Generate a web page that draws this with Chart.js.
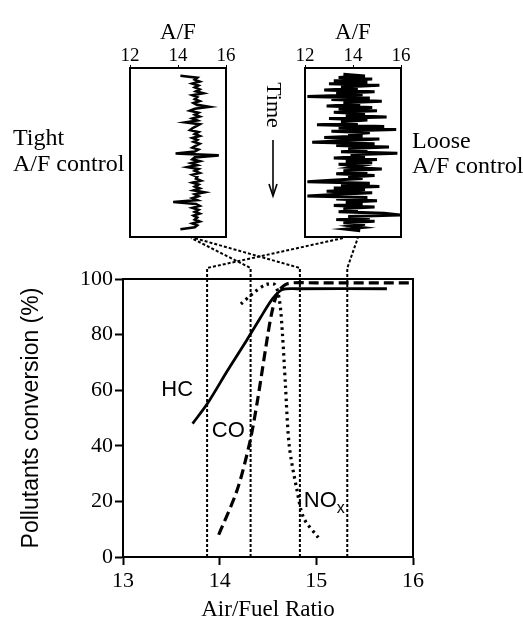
<!DOCTYPE html>
<html>
<head>
<meta charset="utf-8">
<script src="https://cdn.jsdelivr.net/npm/chart.js@4/dist/chart.umd.min.js"></script>
<style>
  body { margin: 0; background: #fff; }
  #wrap { position: relative; width: 523px; height: 624px; }
  canvas { position: absolute; }
</style>
</head>
<body>
<div id="wrap">
  <canvas id="main" width="523" height="624" style="left:0;top:0"></canvas>
  <canvas id="tight" width="160" height="245" style="left:100px;top:0"></canvas>
  <canvas id="loose" width="160" height="245" style="left:275px;top:0"></canvas>
</div>
<script>
// ---- data ----
const xTicks = [13, 14, 15, 16];
const yTicks = [0, 20, 40, 60, 80, 100];
const insetTicks = [12, 14, 16];

// conversion curves: [A/F, %]
const hcCurve = [[13.72, 48], [13.87, 55], [14.08, 67], [14.28, 78], [14.42, 86], [14.55, 93], [14.65, 96.2], [14.8, 96.5], [15.73, 96.5]];
const coCurve = [[13.99, 8], [14.18, 24], [14.31, 41], [14.39, 56], [14.48, 76], [14.54, 88], [14.6, 95], [14.7, 98.3], [15.0, 98.6], [16.0, 98.6]];
const noxCurve = [[14.22, 91], [14.35, 95], [14.48, 98], [14.57, 98], [14.62, 92], [14.65, 80], [14.68, 62], [14.72, 40], [14.8, 24], [14.87, 14], [15.02, 7]];

// operating window limits on main axis, and the inset A/F values they link to
const tightWindow = [14.32, 14.83];
const tightLinkFrom = [14.55, 14.67];
const looseWindow = [13.87, 15.32];
const looseLinkFrom = [13.6, 14.2];

// A/F traces over time (top = start)
const tightAF = [14.1, 14.8, 14.7, 14.9, 14.6, 14.85, 14.7, 14.9, 14.75, 15.05,
  14.6, 14.8, 14.7, 14.9, 14.65, 14.8, 15.3, 14.7, 14.5, 14.85,
  14.7, 14.9, 14.6, 14.8, 14.3, 14.9, 14.75, 14.6, 14.5, 14.85,
  14.7, 14.9, 14.6, 14.8, 14.65, 14.9, 14.75, 14.6, 14.85, 14.7,
  13.9, 15.7, 14.7, 14.6, 14.9, 14.55, 14.8, 14.4, 14.85, 14.7,
  14.9, 14.6, 14.8, 14.75, 14.95, 14.6, 14.85, 14.7, 14.9, 14.65,
  15.1, 14.7, 14.85, 14.6, 14.8, 13.8, 14.75, 14.9, 14.6, 14.85,
  14.7, 14.9, 14.65, 14.8, 14.7, 14.9, 14.6, 14.8, 14.7, 14.1];
const looseAF = [13.6, 14.5, 13.4, 14.8, 13.2, 14.6, 13.0, 15.1, 13.5, 14.2,
  12.8, 14.9, 13.3, 14.4, 12.1, 14.7, 13.1, 15.2, 13.6, 14.3,
  12.9, 14.8, 13.4, 15.0, 13.2, 14.5, 13.7, 15.4, 13.0, 14.6,
  13.5, 14.2, 12.5, 15.3, 13.4, 15.8, 13.1, 14.7, 13.8, 14.4,
  12.8, 15.1, 13.6, 12.3, 14.9, 13.3, 15.5, 13.8, 14.6, 13.5,
  15.85, 13.9, 14.5, 13.2, 15.0, 13.7, 14.8, 13.4, 14.3, 13.9,
  15.2, 13.6, 14.6, 13.3, 14.9, 13.8, 14.4, 13.1, 12.1, 14.7,
  13.5, 15.1, 13.2, 14.5, 12.9, 14.8, 13.4, 12.1, 14.6, 13.3,
  15.0, 13.7, 14.4, 13.2, 14.9, 13.6, 14.2, 13.4, 15.3, 15.96,
  13.8, 14.7, 13.3, 14.9, 13.6, 14.5, 13.9, 14.4, 13.7, 14.3];

const SERIF = '"Liberation Serif", "DejaVu Serif", serif';
const SANS = '"Liberation Sans", Arial, sans-serif';
Chart.defaults.color = '#000';
Chart.defaults.animation = false;

const toXY = arr => arr.map(p => ({ x: p[0], y: p[1] }));

const boxPlugin = {
  id: 'box',
  afterDraw(chart) {
    const a = chart.chartArea, ctx = chart.ctx;
    ctx.save();
    ctx.strokeStyle = '#000';
    ctx.lineWidth = 2;
    ctx.strokeRect(a.left, a.top, a.right - a.left, a.bottom - a.top);
    ctx.restore();
  }
};

function makeInset(id, values, lw) {
  return new Chart(document.getElementById(id), {
    type: 'scatter',
    data: {
      datasets: [{
        data: values.map((v, i) => ({ x: v, y: i })),
        showLine: true,
        borderColor: '#000',
        borderWidth: lw,
        pointRadius: 0,
        tension: 0
      }]
    },
    options: {
      responsive: false,
      layout: { padding: { left: 30, right: 34, top: 19, bottom: 8 } },
      plugins: { legend: { display: false }, tooltip: { enabled: false } },
      scales: {
        x: {
          position: 'top',
          min: 12, max: 16,
          afterBuildTicks: s => { s.ticks = insetTicks.map(v => ({ value: v })); },
          afterFit: s => { s.height = 49; },
          ticks: { font: { family: SERIF, size: 19 }, padding: -2, maxRotation: 0 },
          grid: { drawOnChartArea: false, tickLength: 3, color: '#000' },
          border: { color: '#000', width: 2 },
          title: { display: true, text: 'A/F', font: { family: SERIF, size: 23 }, padding: 0 }
        },
        y: {
          display: false,
          reverse: true,
          min: -4, max: values.length + 3
        }
      }
    },
    plugins: [boxPlugin]
  });
}

const tightChart = makeInset('tight', tightAF, 2.6);
const looseChart = makeInset('loose', looseAF, 3);

const overlayPlugin = {
  id: 'overlay',
  afterDraw(chart) {
    const ctx = chart.ctx, xs = chart.scales.x, ys = chart.scales.y, a = chart.chartArea;
    ctx.save();
    ctx.strokeStyle = '#000';
    // frame
    ctx.lineWidth = 2;
    ctx.strokeRect(a.left, a.top, a.right - a.left, a.bottom - a.top);

    // window lines + links to insets
    const bend = ys.getPixelForValue(100) - 11;
    ctx.lineWidth = 2;
    ctx.setLineDash([3, 2]);
    function link(inset, offX, from, to) {
      for (let i = 0; i < to.length; i++) {
        const xm = xs.getPixelForValue(to[i]);
        const xi = inset.scales.x.getPixelForValue(from[i]) + offX;
        const yi = inset.chartArea.bottom + 1;
        ctx.beginPath();
        ctx.moveTo(xm, a.bottom);
        ctx.lineTo(xm, bend);
        ctx.lineTo(xi, yi);
        ctx.stroke();
      }
    }
    link(tightChart, 100, tightLinkFrom, tightWindow);
    link(looseChart, 275, looseLinkFrom, looseWindow);
    ctx.setLineDash([]);

    // curve labels
    ctx.fillStyle = '#000';
    ctx.textBaseline = 'middle';
    ctx.textAlign = 'center';
    ctx.font = '22px ' + SANS;
    ctx.fillText('HC', xs.getPixelForValue(13.56), ys.getPixelForValue(60));
    ctx.fillText('CO', xs.getPixelForValue(14.09), ys.getPixelForValue(45.5));
    ctx.textAlign = 'left';
    const nx = xs.getPixelForValue(14.87), ny = ys.getPixelForValue(20);
    ctx.fillText('NO', nx, ny);
    const w = ctx.measureText('NO').width;
    ctx.font = '16px ' + SANS;
    ctx.fillText('x', nx + w, ny + 7);

    // side labels
    ctx.font = '24px ' + SERIF;
    ctx.textBaseline = 'alphabetic';
    const tl = 100 + tightChart.chartArea.left;
    ctx.fillText('Tight', tl - 117, 145);
    ctx.fillText('A/F control', tl - 117, 171);
    const lr = 275 + looseChart.chartArea.right;
    ctx.fillText('Loose', lr + 11, 148);
    ctx.fillText('A/F control', lr + 11, 173);

    // Time arrow
    const tx = 275 + looseChart.chartArea.left - 32;
    ctx.save();
    ctx.translate(tx, 105);
    ctx.rotate(Math.PI / 2);
    ctx.textAlign = 'center';
    ctx.textBaseline = 'middle';
    ctx.font = '22px ' + SERIF;
    ctx.fillText('Time', 0, 0);
    ctx.restore();
    ctx.lineWidth = 1.6;
    ctx.beginPath();
    ctx.moveTo(tx, 140);
    ctx.lineTo(tx, 194);
    ctx.stroke();
    ctx.beginPath();
    ctx.moveTo(tx - 4, 184);
    ctx.lineTo(tx, 196);
    ctx.lineTo(tx + 4, 184);
    ctx.stroke();
    ctx.restore();
  }
};

new Chart(document.getElementById('main'), {
  type: 'scatter',
  data: {
    datasets: [
      { label: 'HC', data: toXY(hcCurve), showLine: true, borderColor: '#000', borderWidth: 2.8, pointRadius: 0, tension: 0.3 },
      { label: 'CO', data: toXY(coCurve), showLine: true, borderColor: '#000', borderWidth: 3.2, borderDash: [10, 5], pointRadius: 0, tension: 0.3 },
      { label: 'NOx', data: toXY(noxCurve), showLine: true, borderColor: '#000', borderWidth: 3.2, borderDash: [2.5, 4], pointRadius: 0, tension: 0.3 }
    ]
  },
  options: {
    responsive: false,
    layout: { padding: { left: 18, right: 110, top: 279, bottom: 0 } },
    plugins: { legend: { display: false }, tooltip: { enabled: false } },
    scales: {
      x: {
        type: 'linear',
        min: 13, max: 16,
        afterBuildTicks: s => { s.ticks = xTicks.map(v => ({ value: v })); },
        afterFit: s => { s.height = 67; },
        ticks: { font: { family: SERIF, size: 22 }, padding: 3, maxRotation: 0 },
        grid: { drawOnChartArea: false, tickLength: 8, tickWidth: 2, tickColor: '#000' },
        border: { color: '#000', width: 2 },
        title: { display: true, text: 'Air/Fuel Ratio', font: { family: SERIF, size: 23 }, padding: 0 }
      },
      y: {
        min: 0, max: 100,
        afterBuildTicks: s => { s.ticks = yTicks.map(v => ({ value: v })); },
        afterFit: s => { s.width = 105; },
        ticks: { font: { family: SERIF, size: 22 }, padding: 2 },
        grid: { drawOnChartArea: false, tickLength: 8, tickWidth: 2, tickColor: '#000' },
        border: { color: '#000', width: 2 },
        title: { display: true, text: 'Pollutants conversion (%)', font: { family: SANS, size: 23 }, padding: 0 }
      }
    }
  },
  plugins: [overlayPlugin]
});
</script>
</body>
</html>
